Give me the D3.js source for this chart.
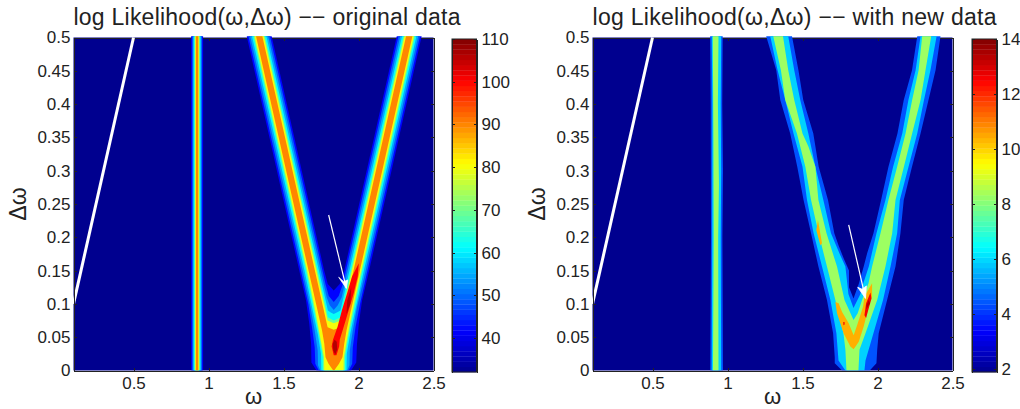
<!DOCTYPE html>
<html>
<head>
<meta charset="utf-8">
<script src="https://cdnjs.cloudflare.com/ajax/libs/d3/7.8.5/d3.min.js"></script>
<style>
  html, body { margin: 0; padding: 0; background: #fff; }
  text { font-family: "Liberation Sans", Arial, sans-serif; fill: #222; }
  .axis path, .axis line { stroke: #222; shape-rendering: crispEdges; }
  .axis text { font-size: 17px; }
</style>
</head>
<body>
<div id="chart"></div>
<script>
// DATA ----------------------------------------------
const xTicks = [0.5, 1, 1.5, 2, 2.5];
const yTicks = [0, 0.05, 0.1, 0.15, 0.2, 0.25, 0.3, 0.35, 0.4, 0.45, 0.5];
const leftBarTicks = [40, 50, 60, 70, 80, 90, 100, 110];
const rightBarTicks = [2, 4, 6, 8, 10, 12, 14];

// contour outlines as [omega, deltaOmega]
const whiteLine = [[0.1, 0.1], [0.5, 0.5]];

const leftLevels = [42, 49, 55, 62, 70, 80, 90];
const leftStemEdges = [[0.884, 0.964], [0.891, 0.957], [0.897, 0.951], [0.902, 0.946], [0.907, 0.941], [0.911, 0.937], [0.916, 0.932]];
const leftVee = [
  [[1.255, 0.502], [1.605, 0.15], [1.65, 0.105], [1.672, 0.07], [1.684, 0.04], [1.686, 0.012], [1.72, 0], [1.95, 0], [1.985, 0.012], [1.99, 0.04], [2.002, 0.07], [2.024, 0.105], [2.071, 0.15], [2.421, 0.502], [2.255, 0.502], [1.905, 0.15], [1.875, 0.13], [1.835, 0.12], [1.795, 0.13], [1.771, 0.15], [1.421, 0.502]],
  [[1.266, 0.502], [1.616, 0.15], [1.665, 0.1], [1.69, 0.065], [1.708, 0.035], [1.712, 0.01], [1.735, 0], [1.935, 0], [1.958, 0.01], [1.962, 0.035], [1.98, 0.065], [2.01, 0.1], [2.06, 0.15], [2.41, 0.502], [2.266, 0.502], [1.896, 0.13], [1.868, 0.112], [1.835, 0.103], [1.802, 0.112], [1.78, 0.13], [1.41, 0.502]],
  [[1.278, 0.502], [1.628, 0.15], [1.68, 0.095], [1.708, 0.06], [1.728, 0.03], [1.73, 0.008], [1.745, 0], [1.925, 0], [1.94, 0.008], [1.942, 0.03], [1.962, 0.06], [1.99, 0.095], [2.048, 0.15], [2.398, 0.502], [2.278, 0.502], [1.888, 0.11], [1.862, 0.098], [1.835, 0.091], [1.808, 0.098], [1.788, 0.11], [1.398, 0.502]],
  [[1.29, 0.502], [1.64, 0.15], [1.695, 0.09], [1.728, 0.055], [1.75, 0.025], [1.752, 0], [1.92, 0], [1.922, 0.025], [1.945, 0.055], [1.978, 0.09], [2.036, 0.15], [2.386, 0.502], [2.29, 0.502], [1.88, 0.09], [1.855, 0.087], [1.835, 0.085], [1.815, 0.087], [1.796, 0.09], [1.386, 0.502]],
  [[1.3, 0.502], [1.65, 0.15], [1.705, 0.09], [1.74, 0.05], [1.762, 0.02], [1.763, 0], [1.91, 0], [1.91, 0.02], [1.932, 0.05], [1.968, 0.09], [2.026, 0.15], [2.376, 0.502], [2.3, 0.502], [1.88, 0.08], [1.835, 0.075], [1.796, 0.08], [1.376, 0.502]],
  [[1.307, 0.502], [1.657, 0.15], [1.712, 0.09], [1.745, 0.05], [1.77, 0.02], [1.772, 0], [1.9, 0], [1.902, 0.02], [1.925, 0.05], [1.96, 0.09], [2.019, 0.15], [2.369, 0.502], [2.307, 0.502], [1.882, 0.075], [1.835, 0.071], [1.794, 0.075], [1.369, 0.502]],
  [[1.317, 0.502], [1.667, 0.15], [1.757, 0.06], [1.772, 0.04], [1.78, 0.02], [1.8, 0.01], [1.832, 0], [1.838, 0], [1.87, 0.01], [1.893, 0.02], [1.905, 0.04], [1.92, 0.06], [2.009, 0.15], [2.359, 0.502], [2.317, 0.502], [1.882, 0.065], [1.835, 0.061], [1.794, 0.065], [1.359, 0.502]],
];
const leftRedRidge = [[2.002, 0.161], [1.995, 0.141], [1.968, 0.116], [1.935, 0.091], [1.902, 0.066], [1.875, 0.046], [1.871, 0.036], [1.853, 0.023], [1.835, 0.023], [1.821, 0.036], [1.83, 0.046], [1.861, 0.066], [1.89, 0.091], [1.924, 0.116], [1.957, 0.141]];
const leftDarkUpper = [[1.952, 0.125], [1.945, 0.1], [1.92, 0.085], [1.925, 0.105]];
const leftDarkLower = [[1.855, 0.043], [1.858, 0.032], [1.845, 0.024], [1.832, 0.03], [1.828, 0.04], [1.84, 0.046]];
const leftArrow = [[1.801, 0.2335], [1.919, 0.1234]];
const leftArrowHead = [[1.919, 0.1234], [1.868, 0.14], [1.9015, 0.1333], [1.928, 0.136]];

const rightLevels = [4.4, 5.9, 8.3, 10.4, 12.6, 13.4];
const rightVeeBlue = [[1.258, 0.502], [1.325, 0.451], [1.352, 0.406], [1.418, 0.356], [1.465, 0.306], [1.507, 0.256], [1.557, 0.206], [1.606, 0.156], [1.663, 0.106], [1.704, 0.056], [1.715, 0.02], [1.715, 0.011], [1.764, 0], [1.948, 0], [1.993, 0.011], [1.998, 0.031], [2.008, 0.056], [2.064, 0.106], [2.12, 0.156], [2.153, 0.206], [2.175, 0.256], [2.23, 0.306], [2.287, 0.356], [2.34, 0.406], [2.387, 0.451], [2.42, 0.502], [2.265, 0.502], [2.23, 0.451], [2.175, 0.406], [2.133, 0.356], [2.073, 0.306], [2.024, 0.256], [1.973, 0.206], [1.931, 0.176], [1.908, 0.156], [1.875, 0.13], [1.84, 0.108], [1.81, 0.125], [1.81, 0.15], [1.775, 0.168], [1.74, 0.188], [1.712, 0.206], [1.67, 0.256], [1.608, 0.306], [1.572, 0.356], [1.505, 0.406], [1.473, 0.451], [1.43, 0.502]];
const rightVeeCyan = [[1.285, 0.502], [1.334, 0.451], [1.385, 0.406], [1.44, 0.356], [1.5, 0.306], [1.53, 0.256], [1.574, 0.206], [1.63, 0.156], [1.686, 0.106], [1.726, 0.056], [1.74, 0.015], [1.786, 0], [1.913, 0], [1.92, 0.015], [1.973, 0.056], [2.037, 0.106], [2.087, 0.156], [2.131, 0.206], [2.149, 0.256], [2.207, 0.306], [2.265, 0.356], [2.31, 0.406], [2.353, 0.451], [2.394, 0.502], [2.287, 0.502], [2.254, 0.451], [2.206, 0.406], [2.165, 0.356], [2.104, 0.306], [2.053, 0.256], [1.993, 0.206], [1.942, 0.156], [1.904, 0.13], [1.886, 0.115], [1.84, 0.094], [1.806, 0.115], [1.786, 0.156], [1.746, 0.176], [1.69, 0.206], [1.639, 0.256], [1.586, 0.306], [1.539, 0.356], [1.485, 0.406], [1.445, 0.451], [1.405, 0.502]];
const rightVeeGreen = [[1.305, 0.502], [1.356, 0.451], [1.385, 0.406], [1.463, 0.356], [1.519, 0.306], [1.557, 0.256], [1.607, 0.206], [1.663, 0.156], [1.719, 0.106], [1.773, 0.056], [1.786, 0.031], [1.793, 0], [1.873, 0], [1.88, 0.031], [1.92, 0.056], [1.998, 0.106], [2.053, 0.156], [2.098, 0.206], [2.12, 0.256], [2.176, 0.306], [2.231, 0.356], [2.287, 0.406], [2.32, 0.451], [2.358, 0.502], [2.298, 0.502], [2.274, 0.451], [2.231, 0.406], [2.187, 0.356], [2.131, 0.306], [2.073, 0.256], [2.02, 0.206], [1.964, 0.156], [1.94, 0.131], [1.897, 0.106], [1.868, 0.086], [1.84, 0.076], [1.82, 0.086], [1.78, 0.106], [1.73, 0.156], [1.66, 0.206], [1.606, 0.256], [1.586, 0.306], [1.54, 0.336], [1.5, 0.356], [1.445, 0.406], [1.405, 0.451], [1.37, 0.502]];
const rightStemBlue = [[0.884, 0.502], [0.888, 0.4], [0.89, 0.2], [0.885, 0], [0.97, 0], [0.966, 0.2], [0.97, 0.3], [0.965, 0.4], [0.968, 0.502]];
const rightStemCyan = [[0.895, 0.502], [0.899, 0.4], [0.898, 0.2], [0.895, 0], [0.958, 0], [0.955, 0.2], [0.958, 0.3], [0.955, 0.4], [0.958, 0.502]];
const rightStemGreen = [[0.902, 0.502], [0.906, 0.35], [0.908, 0.2], [0.903, 0], [0.94, 0], [0.938, 0.2], [0.943, 0.28], [0.936, 0.4], [0.94, 0.502]];
const rightOrangeVee = [[1.719, 0.103], [1.73, 0.086], [1.774, 0.056], [1.819, 0.036], [1.841, 0.032], [1.875, 0.043], [1.908, 0.066], [1.942, 0.096], [1.964, 0.111], [1.964, 0.131], [1.913, 0.111], [1.904, 0.096], [1.864, 0.068], [1.841, 0.053], [1.808, 0.071], [1.764, 0.088], [1.741, 0.101]];
const rightOrangeStreak = [[1.603, 0.226], [1.63, 0.191], [1.619, 0.188], [1.592, 0.211]];
const rightRedBlob = [[1.953, 0.117], [1.96, 0.108], [1.942, 0.094], [1.924, 0.079], [1.913, 0.083], [1.924, 0.101]];
const rightRedSpot = [[1.772, 0.073], [1.78, 0.073], [1.781, 0.069], [1.773, 0.068]];
const rightDarkBlob = [[1.942, 0.106], [1.951, 0.101], [1.937, 0.096], [1.926, 0.092], [1.926, 0.098]];
const rightArrow = [[1.808, 0.2185], [1.92, 0.1084]];
const rightArrowHead = [[1.92, 0.1084], [1.868, 0.125], [1.897, 0.122], [1.926, 0.127]];

// jet colormap, 64 steps like the colorbars
const jetStops = [0, 0.125, 0.375, 0.625, 0.875, 1];
const jetColors = ["#00008f", "#0000ff", "#00ffff", "#ffff00", "#ff0000", "#800000"];
const jet = d3.scaleLinear().domain(jetStops).range(jetColors).interpolate(d3.interpolateRgb).clamp(true);

// PANELS ----------------------------------------------
const plotW = 360, plotH = 333;
const svg = d3.select("#chart").append("svg").attr("width", 1020).attr("height", 409).style("display", "block");

function stemPolygon(edges) {
  return [[edges[0], 0.502], [edges[1], 0.502], [edges[1], 0], [edges[0], 0]];
}

function drawPanel(cfg) {
  const g = svg.append("g").attr("transform", "translate(" + cfg.left + ",37.5)");
  const x = d3.scaleLinear().domain([0.1, 2.5]).range([0, plotW]);
  const y = d3.scaleLinear().domain([0, 0.5]).range([plotH, 0]);
  const color = (v) => jet((v - cfg.domain[0]) / (cfg.domain[1] - cfg.domain[0]));
  const line = d3.line().x((d) => x(d[0])).y((d) => y(d[1]));

  g.append("clipPath").attr("id", cfg.id)
    .append("rect").attr("x", 0).attr("y", -1.5).attr("width", plotW).attr("height", plotH + 1.5);

  g.append("rect").attr("width", plotW).attr("height", plotH).attr("fill", color(cfg.domain[0]));

  g.append("g").attr("class", "axis")
    .call(d3.axisTop(x).tickValues(xTicks).tickSizeInner(-3).tickSizeOuter(0).tickFormat(""));
  g.append("g").attr("class", "axis").attr("transform", "translate(" + plotW + ",0)")
    .call(d3.axisRight(y).tickValues(yTicks).tickSizeInner(-3).tickSizeOuter(0).tickFormat(""));

  g.append("g").attr("clip-path", "url(#" + cfg.id + ")")
    .selectAll("path")
    .data(cfg.shapes)
    .enter()
    .append("path")
    .attr("d", (d) => line(d.points) + "Z")
    .attr("fill", (d) => color(d.value));

  g.append("path").attr("d", line(whiteLine)).attr("fill", "none").attr("stroke", "#fff").attr("stroke-width", 3);
  g.append("path").attr("d", line(cfg.arrow)).attr("fill", "none").attr("stroke", "#fff").attr("stroke-width", 1.2);
  g.append("path").attr("d", line(cfg.head) + "Z").attr("fill", "#fff").attr("stroke", "#fff").attr("stroke-width", 0.8);

  g.append("g").attr("class", "axis").attr("transform", "translate(0," + plotH + ")")
    .call(d3.axisBottom(x).tickValues(xTicks).tickSizeInner(-3).tickSizeOuter(0).tickPadding(6.5).tickFormat((d) => String(d)));
  g.append("g").attr("class", "axis")
    .call(d3.axisLeft(y).tickValues(yTicks).tickSizeInner(-3).tickSizeOuter(0).tickPadding(3).tickFormat((d) => String(d)));

  g.append("text").attr("x", 0).attr("y", -12.5).attr("font-size", 23).attr("textLength", cfg.titleLen).text(cfg.title);
  g.append("text").attr("x", plotW / 2).attr("y", 366).attr("text-anchor", "middle").attr("font-size", 22).text("ω");
  g.append("text").attr("transform", "translate(-47.5," + plotH / 2 + ") rotate(-90)")
    .attr("text-anchor", "middle").attr("font-size", 23).text("Δω");

  // colorbar
  const barW = 24.5;
  const bar = g.append("g").attr("transform", "translate(" + cfg.barOffset + ",1.5)");
  const barY = d3.scaleLinear().domain(cfg.domain).range([333, 0]);
  const steps = d3.range(64);
  const stepV = (cfg.domain[1] - cfg.domain[0]) / 64;
  bar.selectAll("rect")
    .data(steps)
    .enter()
    .append("rect")
    .attr("x", 0)
    .attr("y", (i) => barY(cfg.domain[0] + (i + 1) * stepV))
    .attr("width", barW)
    .attr("height", 333 / 64 + 0.3)
    .attr("fill", (i) => jet((i + 0.5) / 64));
  bar.append("rect").attr("width", barW).attr("height", 333).attr("fill", "none").attr("stroke", "#222");
  bar.append("g").attr("class", "axis")
    .call(d3.axisLeft(barY).tickValues(cfg.barTicks).tickSizeInner(-3).tickSizeOuter(0).tickFormat(""));
  bar.append("g").attr("class", "axis").attr("transform", "translate(" + barW + ",0)")
    .call(d3.axisRight(barY).tickValues(cfg.barTicks).tickSizeInner(-3).tickSizeOuter(0).tickPadding(5));
}

const leftShapes = [];
leftLevels.forEach((v, i) => {
  leftShapes.push({ value: v, points: leftVee[i] });
  leftShapes.push({ value: v, points: stemPolygon(leftStemEdges[i]) });
});
leftShapes.push({ value: 100, points: leftRedRidge });
leftShapes.push({ value: 106, points: leftDarkUpper });
leftShapes.push({ value: 106, points: leftDarkLower });

const rightShapes = [
  { value: rightLevels[0], points: rightVeeBlue },
  { value: rightLevels[0], points: rightStemBlue },
  { value: rightLevels[1], points: rightVeeCyan },
  { value: rightLevels[1], points: rightStemCyan },
  { value: rightLevels[2], points: rightVeeGreen },
  { value: rightLevels[2], points: rightStemGreen },
  { value: rightLevels[3], points: rightOrangeVee },
  { value: rightLevels[3], points: rightOrangeStreak },
  { value: rightLevels[4], points: rightRedBlob },
  { value: rightLevels[4], points: rightRedSpot },
  { value: rightLevels[5], points: rightDarkBlob },
];

drawPanel({
  id: "clip-left", left: 73.5, domain: [32.1, 110], barOffset: 378.5, barTicks: leftBarTicks,
  shapes: leftShapes, arrow: leftArrow, head: leftArrowHead,
  title: "log Likelihood(ω,Δω) −− original data", titleLen: 387,
});
drawPanel({
  id: "clip-right", left: 592.5, domain: [1.9, 14], barOffset: 379.5, barTicks: rightBarTicks,
  shapes: rightShapes, arrow: rightArrow, head: rightArrowHead,
  title: "log Likelihood(ω,Δω) −− with new data", titleLen: 404,
});
</script>
</body>
</html>
